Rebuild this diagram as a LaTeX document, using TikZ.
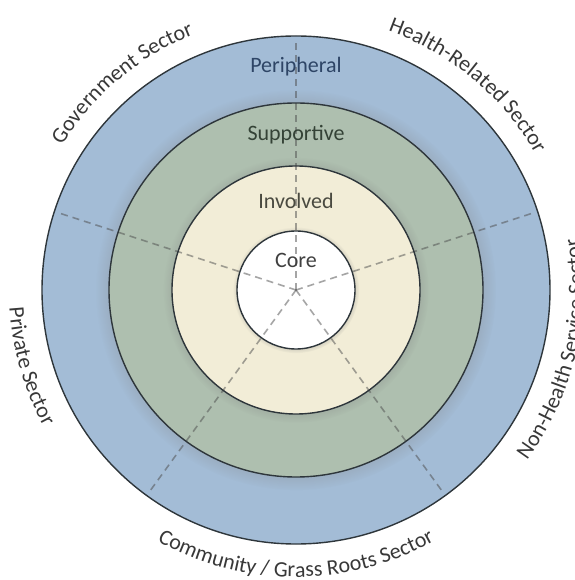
\documentclass[tikz,border=0pt]{standalone}
\usepackage{fontspec}
\setmainfont{Carlito}
\usetikzlibrary{decorations.text}
\usetikzlibrary{shadows}
\usetikzlibrary{fadings}

\definecolor{periblue}{HTML}{A3BCD6}
\definecolor{suppgreen}{HTML}{AEBFAF}
\definecolor{involcream}{HTML}{F2EDD7}
\definecolor{ringline}{HTML}{2E363B}
\definecolor{peritext}{HTML}{2E4566}
\definecolor{supptext}{HTML}{344236}
\definecolor{involtext}{HTML}{4A4A40}
\definecolor{coretext}{HTML}{404040}
\definecolor{sectortext}{HTML}{383838}

\tikzset{
  ring/.style={draw=ringline, line width=1.4pt},
  ringshadow/.style={circular drop shadow={shadow xshift=0pt, shadow yshift=0pt, shadow scale=1.07, opacity=.5}},
  ray/.style={draw=black!70, opacity=.5, line width=1.6pt, dash pattern=on 7pt off 5pt},
  ringlabel/.style={font=\fontsize{22}{24}\selectfont},
  sectorlabel/.style={decorate, decoration={text along path, text align=center,
      text={|\fontsize{22}{24}\selectfont\color{sectortext}|#1}}}
}

\begin{document}
\begin{tikzpicture}[x=1pt,y=1pt]
\useasboundingbox (-296,-290) rectangle (278,290);
\clip (-296,-290) rectangle (278,290);
\coordinate (c) at (0,0);

% discs, largest first
\fill[periblue] (c) circle[radius=254];
\fill[suppgreen, ringshadow] (c) circle[radius=187];
\fill[involcream, ringshadow] (c) circle[radius=124];
\fill[white, ringshadow] (c) circle[radius=59];

\foreach \a in {18,90,162,234,306}
  \draw[ray] (c) -- (\a:251);

\draw[ring] (c) circle[radius=254];
\draw[ring] (c) circle[radius=187];
\draw[ring] (c) circle[radius=124];
\draw[ring] (c) circle[radius=59];

\node[ringlabel, text=peritext] (peri) at (0,223) {Peripheral};
\node[ringlabel, text=supptext] (supp) at (0,155) {Supportive};
\node[ringlabel, text=involtext] (invol) at (0,89) {Involved};
\node[ringlabel, text=coretext] (core) at (0,30) {Core};

% sector names round the outside
\path[sectorlabel=Government Sector] (190:275) arc[start angle=190, end angle=70, radius=275];
\path[sectorlabel=Health-Related Sector] (110:275) arc[start angle=110, end angle=-10, radius=275];
\path[sectorlabel=Private Sector] (136:287) arc[start angle=136, end angle=256, radius=287];
\path[sectorlabel=Community / Grass Roots Sector] (210:287) arc[start angle=210, end angle=330, radius=287];
\path[sectorlabel=Non-Health Service Sector] (287:287) arc[start angle=287, end angle=407, radius=287];
\end{tikzpicture}
\end{document}
